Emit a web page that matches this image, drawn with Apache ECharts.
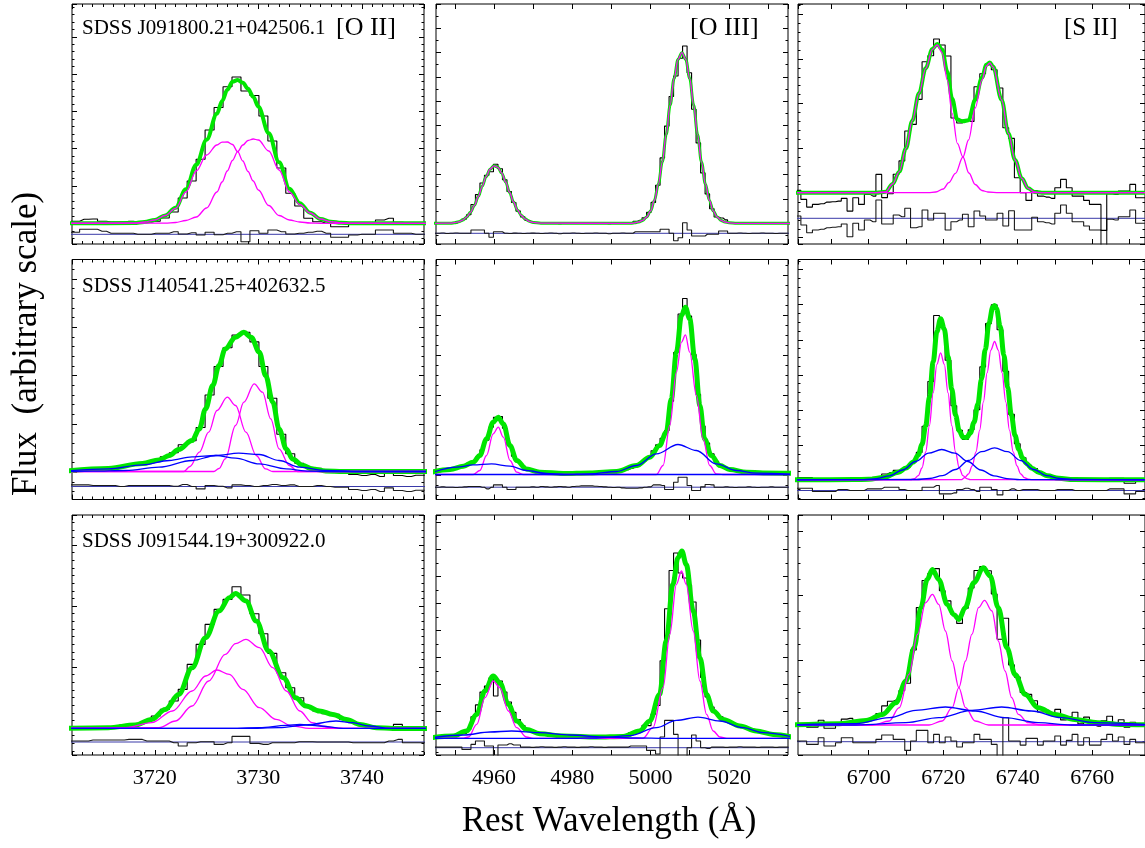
<!DOCTYPE html>
<html><head><meta charset="utf-8">
<script src="https://cdn.jsdelivr.net/npm/echarts@6/dist/echarts.min.js"></script>
<style>html,body{margin:0;padding:0;background:#fff}#c{width:1145px;height:848px}</style>
</head><body><div id="c"></div>
<script>
// ---------------- wavelength grids (bin centres, Angstrom) ----------------
const wlOII = [3711.44,3712.30,3713.17,3714.03,3714.90,3715.77,3716.63,3717.50,3718.36,3719.23,3720.09,3720.96,3721.83,3722.69,3723.56,3724.42,3725.29,3726.16,3727.02,3727.89,3728.75,3729.62,3730.49,3731.35,3732.22,3733.08,3733.95,3734.82,3735.68,3736.55,3737.41,3738.28,3739.15,3740.01,3740.88,3741.74,3742.61,3743.48,3744.34,3745.21,3746.07];
const wlOIII = [4944.35,4945.50,4946.65,4947.80,4948.95,4950.10,4951.25,4952.40,4953.55,4954.70,4955.85,4957.00,4958.15,4959.30,4960.45,4961.60,4962.75,4963.90,4965.05,4966.20,4967.35,4968.50,4969.65,4970.80,4971.95,4973.10,4974.25,4975.40,4976.55,4977.70,4978.85,4980.00,4981.15,4982.30,4983.45,4984.60,4985.75,4986.90,4988.05,4989.20,4990.35,4991.50,4992.65,4993.80,4994.95,4996.10,4997.25,4998.40,4999.55,5000.70,5001.85,5003.00,5004.15,5005.30,5006.45,5007.60,5008.75,5009.90,5011.05,5012.20,5013.35,5014.50,5015.65,5016.80,5017.95,5019.10,5020.25,5021.40,5022.55,5023.70,5024.85,5026.00,5027.15,5028.30,5029.45,5030.60,5031.75,5032.90,5034.05,5035.20];
const wlSII = [6679.45,6681.00,6682.55,6684.10,6685.65,6687.20,6688.75,6690.30,6691.85,6693.40,6694.95,6696.50,6698.05,6699.60,6701.15,6702.70,6704.25,6705.80,6707.35,6708.90,6710.45,6712.00,6713.55,6715.10,6716.65,6718.20,6719.75,6721.30,6722.85,6724.40,6725.95,6727.50,6729.05,6730.60,6732.15,6733.70,6735.25,6736.80,6738.35,6739.90,6741.45,6743.00,6744.55,6746.10,6747.65,6749.20,6750.75,6752.30,6753.85,6755.40,6756.95,6758.50,6760.05,6761.60,6763.15,6764.70,6766.25,6767.80,6769.35,6770.90,6772.45,6774.00,6775.55];

// ---------------- labels ----------------
const objectNames = ['SDSS J091800.21+042506.1','SDSS J140541.25+402632.5','SDSS J091544.19+300922.0'];
const lineNames = ['[O II]','[O III]','[S II]'];
const xTitle = 'Rest Wavelength (\u00C5)';
const yTitle = 'Flux  (arbitrary scale)';
const xRangeMin = [3712, 4945.2, 6681];
const xRangeMax = [3746, 5035.1, 6774.2];
const xLabelEvery = [10, 20, 20];

// ---------------- panel 1,1 : [O II] ----------------
const p11_flux = [22.7,22.7,24.7,25.0,22.7,22.0,22.0,22.7,22.0,21.7,22.7,26.0,32.0,46.0,63.0,84.7,114.0,136.5,157.3,167.0,153.0,148.5,128.0,103.0,76.0,50.7,38.0,25.7,22.3,20.7,17.3,17.3,20.0,20.7,21.3,24.0,25.7,21.7,21.3,20.7,20.0];
const p11_resid = [11.7,11.7,14.7,14.7,12.7,10.7,10.7,10.7,9.7,9.7,10.7,10.7,12.3,10.0,11.3,9.0,11.7,9.3,10.7,12.3,2.3,13.3,10.7,14.0,12.3,10.0,10.7,11.7,12.7,10.7,6.7,6.7,9.0,9.7,9.7,14.0,14.0,10.7,10.7,9.7,9.7];
const p11_total = [[3711,20.7],[3718,20.9],[3719,22.0],[3720,24.0],[3721,28.6],[3722,36.3],[3723,54.8],[3724,79.3],[3725,104.3],[3726,130.3],[3726.5,143.1],[3727,154.3],[3727.5,162.3],[3728,163.9],[3728.5,161.3],[3729,155.3],[3729.5,147.3],[3730,137.3],[3731,110.8],[3732,81.8],[3733,55.3],[3734,40.8],[3735,31.3],[3736,25.0],[3737,22.3],[3738,21.2],[3739,20.8],[3747,20.7]];
const p11_n1 = [[3711,20.7],[3718,20.9],[3719,22.0],[3720,24.0],[3721,28.5],[3722,35.5],[3723,52],[3724,73],[3725,89],[3726,99],[3726.5,101.8],[3727,102],[3727.5,99.5],[3728,92.3],[3728.5,83],[3729,72.5],[3729.5,63],[3730,54],[3731,38.5],[3732,28.5],[3733,24],[3734,22],[3735,21],[3736,20.7],[3747,20.7]];
const p11_n2 = [[3711,20.7],[3721,20.8],[3722,21.5],[3723,23.5],[3724,27],[3725,36],[3726,52],[3726.5,62],[3727,73],[3727.5,83.5],[3728,92.3],[3728.5,99],[3729,103.5],[3729.5,105],[3730,104],[3731,93],[3732,74],[3733,52],[3734,39.5],[3735,31],[3736,25],[3737,22.3],[3738,21.2],[3739,20.8],[3747,20.7]];

// ---------------- panel 1,2 : [O III] ----------------
const p12_flux = [20.7,20.7,21.0,20.5,20.7,21.0,22.5,24.9,29.2,39.5,49.4,61.0,68.8,72.3,79.7,75.2,64.2,52.5,41.5,32.9,27.1,23.6,21.9,21.1,20.5,20.7,21.0,20.7,20.3,20.7,20.7,21.0,20.7,20.5,20.7,20.7,21.0,20.7,20.7,20.3,20.7,20.7,21.0,20.7,20.7,22.8,23.8,26.3,31.6,41.6,58.7,86.1,117.9,147.5,168.0,185.8,198.0,171.3,134.7,101.1,71.1,50.1,35.3,27.0,26.0,24.1,21.1,20.7,21.0,20.7,20.5,20.7,20.7,21.0,20.7,20.7,20.5,20.7,20.7,20.7];
const p12_resid = [10.7,10.7,11.0,10.5,10.7,11.0,10.7,10.7,10.7,14.0,14.0,14.0,10.7,6.7,12.3,12.3,10.7,10.5,10.9,10.7,10.5,10.7,10.9,10.7,10.5,10.7,11.0,10.7,10.3,10.7,10.7,11.0,10.7,10.5,10.7,10.7,11.0,10.7,10.7,10.3,10.7,10.7,11.0,10.7,10.7,12.3,12.3,12.3,12.3,12.3,12.3,14.7,14.7,10.7,3.3,6.3,21.3,14.0,8.0,8.0,8.0,9.7,9.7,9.7,13.0,13.0,10.7,10.7,11.0,10.7,10.5,10.7,10.7,11.0,10.7,10.7,10.5,10.7,10.7,10.7];
const p12_total = [[4944,20.7],[4949,20.8],[4950,21.3],[4951,22.2],[4952,23.9],[4953,26.8],[4954,31.7],[4955,38.6],[4956,47.5],[4957,57.7],[4958,67.4],[4959,74.8],[4960,78.2],[4961,76.7],[4962,70.8],[4963,61.8],[4964,51.5],[4965,42.0],[4966,34.1],[4967,28.5],[4968,24.9],[4969,22.7],[4970,21.6],[4972,20.8],[4995,20.7],[4996,21.2],[4997,22.1],[4998,23.6],[4999,27.0],[5000,33.1],[5001,43.8],[5002,60.1],[5003,82.1],[5004,109.6],[5005,138.9],[5006,165.5],[5007,184.5],[5008,191.3],[5009,184.5],[5010,165.5],[5011,138.9],[5012,109.6],[5013,82.1],[5014,60.1],[5015,43.8],[5016,33.1],[5017,27.0],[5018,23.6],[5019,22.0],[5020,21.2],[5022,20.7],[5036,20.7]];
const p12_narrow = p12_total; // single narrow component = total model

// ---------------- panel 1,3 : [S II] ----------------
const p13_flux = [53.6,53.6,44.6,36.9,39.6,40.3,41.9,42.3,42.9,45.6,32.9,46.3,39.6,49.6,47.9,69.6,46.4,50.3,69.8,83.1,113.0,119.6,144.6,182.3,188.3,205.0,199.0,188.0,126.0,121.0,124.0,122.6,157.3,170.3,179.3,174.3,156.0,116.3,105.6,66.3,51.3,43.6,53.1,47.9,46.9,45.6,56.3,64.6,56.3,47.9,47.9,43.6,39.6,39.6,13.6,50.3,49.6,52.9,52.9,59.6,46.3,46.3,45.6];
const p13_resid = [28.0,28.0,19.0,11.3,14.0,14.7,16.3,16.7,17.3,20.0,7.3,20.7,14.0,24.0,22.3,44.0,20.0,20.0,29.0,27.3,35.7,16.3,17.3,34.0,24.0,30.7,30.7,14.0,22.3,24.0,29.7,17.3,33.0,28.0,24.0,24.0,30.7,18.0,33.3,14.0,14.0,14.0,26.7,22.3,21.3,20.0,30.7,39.0,30.7,22.3,22.3,18.0,14.0,14.0,-12,24.7,24.0,27.3,27.3,34.0,20.7,20.7,20.0];
const p13_total = [[6679,51.3],[6702,51.3],[6704.6,52.3],[6706.4,60],[6708.2,72.3],[6710,95.7],[6711.7,123.3],[6713.5,150.7],[6715.3,175.7],[6717.1,195.1],[6718.4,199.9],[6719.7,194.5],[6721.1,172.3],[6722.4,145.4],[6723.8,124.4],[6725.3,122.7],[6726.8,123.8],[6728.6,144.2],[6730.4,166.2],[6731.6,179.3],[6732.5,181.6],[6733.4,177.4],[6735.7,144],[6737.5,110.7],[6739.3,84],[6741.1,65.7],[6742.8,55.7],[6744.6,52],[6746.5,51.3],[6776,51.3]];
const p13_n1 = [[6679,51.3],[6702,51.3],[6704.6,52.3],[6706.4,60],[6708.2,72.3],[6710,95.7],[6711.7,123.3],[6713.5,150.7],[6715.3,175.7],[6717.1,194.7],[6718.4,199],[6719.7,191.3],[6721.1,164],[6722.4,130.7],[6723.8,100.7],[6725.3,87],[6726.9,71],[6728.6,59.5],[6730.4,53.5],[6732,52],[6735,51.3],[6776,51.3]];
const p13_n2 = [[6679,51.3],[6716,51.3],[6718,52],[6720,55],[6721.5,61.3],[6723.3,70.7],[6725.3,87],[6726.8,104],[6728.6,136],[6730.4,164],[6731.6,178],[6732.5,181],[6733.4,177],[6735.7,144],[6737.5,110.7],[6739.3,84],[6741.1,65.7],[6742.8,55.7],[6744.6,52],[6746.5,51.3],[6776,51.3]];

// ---------------- panel 2,1 ----------------
const p21_flux = [29.6,29.7,29.9,29.6,30.0,32.2,32.5,34.8,36.2,37.9,39.5,42.8,46.7,54.8,58.8,72.0,104.5,133.0,151.8,164.5,167.3,157.6,133.0,101.2,65.3,45.8,36.3,32.2,31.3,28.6,27.6,27.3,25.0,24.0,25.0,23.0,26.6,24.0,23.0,24.3,24.3];
const p21_resid = [14.6,14.6,14.6,14,14,14,13,14,14,14,14,14,13.3,15,13,10.6,14,13.3,11.6,14.6,14,13,14,15,14,14.6,13,13,14,13,12.3,12.3,10,9,10,8,11.6,9,8,9.3,9.3];
const p21_total = [[3711,28],[3715.5,31],[3718.8,36],[3720.4,39.5],[3721.4,44],[3722.3,50],[3723.6,59],[3724.3,70.6],[3724.9,90.6],[3725.6,114],[3726.2,134],[3726.8,150.6],[3727.8,162.3],[3728.6,167.3],[3729.3,162.3],[3730.1,147.3],[3730.7,124],[3731.4,97.3],[3732,70.6],[3732.7,50.6],[3733.3,40.6],[3734.3,34],[3735.2,30.6],[3736.5,28.6],[3738.2,28],[3747,28]];
const p21_n1 = [[3711,28],[3722.8,28],[3723.4,33],[3724.3,47.3],[3725.2,67.3],[3726,89],[3727,102.3],[3727.8,94],[3728.8,67.3],[3729.8,44],[3730.7,30.6],[3731.4,28],[3747,28]];
const p21_n2 = [[3711,28],[3725.7,28],[3726.2,31],[3726.8,40.6],[3727.8,74],[3728.6,97.3],[3729.6,115.6],[3730.4,107.3],[3731.2,80.6],[3732,50.6],[3733,34],[3733.8,28],[3747,28]];
const p21_b1 = [[3711,28.1],[3715.5,30.6],[3718.8,34.6],[3721.4,39],[3723.6,42.6],[3725.9,44],[3727.8,41.3],[3730.1,35.6],[3732.7,30.6],[3734.9,28.3],[3737.2,28],[3747,28]];
const p21_b2 = [[3711,28],[3714,28.3],[3717.2,29],[3720.4,32.3],[3723.6,39],[3725.9,44],[3728.1,46.3],[3730.1,45],[3732,39],[3734,32.3],[3736.5,29],[3739.8,28],[3747,28]];

// ---------------- panel 2,2 ----------------
const p22_flux = [27.6,27.6,28.6,29.2,30.1,30.9,32.4,33.9,36.2,38.0,42.5,49.8,59.4,72.4,82.1,83.0,71.2,54.2,43.3,37.5,33.6,30.4,29.6,28.2,27.9,27.2,26.7,26.7,26.9,26.3,26.1,26.9,27.3,27.7,27.8,27.9,27.8,27.7,27.6,27.6,27.5,28.1,28.7,29.8,31.1,32.6,35.4,38.9,42.1,48.7,54.6,61.2,68.9,98.3,147.0,185.5,201.0,183.4,145.0,105.1,73.4,56.5,45.6,38.1,33.6,32.1,30.0,29.0,28.6,27.9,27.6,27.1,26.6,26.7,26.6,26.8,26.5,26.4,26.4,26.3];
const p22_resid = [12.3,12.3,12.6,12.3,12.3,12.0,12.3,12.6,13.0,13.0,13.0,12.3,10.6,12.3,14.6,14.6,12.3,10.0,10.0,12.3,12.3,12.3,12.6,12.3,13.0,12.6,12.3,12.6,13.0,12.6,12.3,13.0,13.3,13.6,13.6,13.6,13.3,13.0,12.6,12.3,12.0,12.3,11.6,11.3,11.3,11.3,11.6,12.3,12.6,14.6,14.6,14.0,10.0,10.0,17.3,22.3,22.3,14.0,9.0,9.0,12.6,15.0,14.6,12.3,12.3,12.6,12.3,12.0,12.3,12.3,12.6,12.3,12.0,12.3,12.3,12.6,12.3,12.3,12.3,12.3];
const p22_total = [[4944,27.3],[4948.8,30],[4952.2,33.3],[4954.7,37.3],[4956.4,44],[4958.1,60.6],[4959.8,77.3],[4961.1,82.3],[4962.4,75.6],[4964.1,54],[4965.8,39],[4968.3,30.6],[4971.7,27.3],[4977.7,26],[4984.5,26.6],[4991.3,28],[4996.4,34],[4999.8,42.3],[5002.3,54],[5004,67.3],[5005.3,100.6],[5006.6,147.3],[5007.9,184],[5008.9,192.3],[5010,180.6],[5011.3,140.6],[5012.6,94],[5013.8,60.6],[5015.5,44],[5017.7,34],[5020.2,30],[5024.5,27.3],[5028.7,26.6],[5036,26.3]];
const p22_narrow = [[4944,25],[4954.7,25],[4956.4,29],[4958.1,44],[4959.8,65.6],[4961.1,72.3],[4962.4,62.3],[4964.1,39],[4965.8,27.3],[4967.5,25],[5001.5,25],[5003.2,34],[5004.9,74],[5006.6,127.3],[5007.9,157.3],[5008.9,164.6],[5010,147.3],[5011.7,104],[5013.4,60.6],[5015.1,34],[5016.8,25.6],[5018.5,25],[5036,25]];
const p22_b1 = [[4944,26.6],[4950.5,32.3],[4954.7,34.6],[4959.4,35.6],[4964.1,33.3],[4968.3,29],[4973.4,26],[4978,25],[5036,25]];
const p22_b2 = [[4944,25],[4978,25],[4984.5,25.6],[4991.3,28],[4996.4,34],[5001.5,45.6],[5007,55],[5011.7,49],[5016.8,35.6],[5021.9,29],[5027,26.3],[5036,25.3]];

// ---------------- panel 2,3 ----------------
const p23_flux = [21.9,21.9,21.9,21.9,18.6,18.7,18.7,18.8,20.8,20.9,20.0,20.1,20.2,21.8,22.2,22.7,25.5,26.9,29.1,29.5,32.5,37.5,47.1,73.3,118.0,184.0,172.0,139.2,93.7,69.2,60.0,69.8,89.8,132.6,175.9,194.8,169.7,128.3,85.1,55.7,41.8,34.3,30.9,26.5,24.2,22.7,22.4,21.8,21.3,20.0,19.8,19.6,19.6,19.6,19.6,21.2,21.2,21.2,16.2,16.2,18.6,18.6,18.6];
const p23_resid = [11.3,11.3,11.3,11.3,8,8,8,8,10,10,9,9,9,10.6,10.6,10.6,12.3,12.3,12.3,10,9,9,9,12.3,12.3,14,5.6,5.6,6.6,10,11.3,10,8,12.3,12.3,10,4.6,9,10.6,9,10,10,10,9,9,9,10,10,10,9,9,9,9,9,9,10.6,10.6,10.6,5.6,5.6,8,8,8];
const p23_total = [[6679,19.6],[6696,19.9],[6700,20.2],[6704,22.1],[6708,27.3],[6710,31.5],[6712,37.5],[6713.3,44.5],[6714.3,55.0],[6715.3,73.7],[6716.3,102.5],[6717.3,137.4],[6718.3,167.9],[6719.3,180.8],[6720.3,170.4],[6721.3,142.6],[6722.3,110.4],[6723.3,84.4],[6724.3,68.9],[6725.3,62.3],[6726.3,61.9],[6727.3,66.7],[6728.3,77.3],[6729.3,95.3],[6730.3,120.6],[6731.3,150.0],[6732.3,176.6],[6733.3,192.2],[6733.8,194.0],[6734.3,191.1],[6735.3,173.2],[6736.3,144.3],[6737.3,112.3],[6738.3,84.5],[6739.3,63.9],[6740.3,50.2],[6741.3,41.6],[6742.3,36.3],[6743.8,31.3],[6745.8,27.0],[6748,23.7],[6751,21.2],[6755,19.9],[6776,19.6]];
const p23_n1 = [[6679,19.6],[6711.3,19.9],[6712.3,20.9],[6713.3,23.8],[6714.3,31.5],[6715.3,47.5],[6716.3,73.9],[6717.3,106.6],[6718.3,135.2],[6719.3,146.6],[6720.3,135.2],[6721.3,106.6],[6722.3,73.9],[6723.3,47.5],[6724.3,31.5],[6725.3,23.8],[6726.3,20.9],[6727.3,19.9],[6776,19.6]];
const p23_n2 = [[6679,19.6],[6724.8,19.8],[6725.8,21.9],[6726.8,25.7],[6727.8,33.6],[6728.8,47.6],[6729.8,69.4],[6730.8,97.6],[6731.8,126.9],[6732.8,149.4],[6733.8,158.0],[6734.8,149.4],[6735.8,126.9],[6736.8,97.6],[6737.8,69.4],[6738.8,47.6],[6739.8,33.6],[6740.8,25.7],[6741.8,21.9],[6742.8,20.4],[6743.8,19.8],[6776,19.6]];
const p23_b1 = [[6679,19.6],[6698.6,19.9],[6702.1,20.9],[6705.6,23.7],[6709.1,29.5],[6712.6,38.0],[6716.1,46.4],[6719.6,50.0],[6723.1,46.4],[6726.6,38.0],[6730.1,29.5],[6733.6,23.7],[6737.1,20.9],[6740.6,19.9],[6776,19.6]];
const p23_b2 = [[6679,19.6],[6712.8,20.0],[6716.3,21.0],[6719.8,23.9],[6723.3,30.0],[6726.8,39.0],[6730.3,47.8],[6733.8,51.6],[6737.3,47.8],[6740.8,39.0],[6744.3,30.0],[6747.8,23.9],[6751.3,21.0],[6754.8,20.0],[6776,19.6]];

// ---------------- panel 3,1 ----------------
const p31_flux = [27.3,27.3,27.3,27.3,28,28,30,30,31.3,34,39,45.6,54,65.6,90.6,110.6,130.6,145.6,155.6,168.3,160,141.3,121.3,101.6,82.3,67.3,57.3,48,44,41.3,40.6,35.6,32.3,30.6,27.3,27.3,28,30.6,26.6,26.6,26.6];
const p31_resid = [14,14,14,15,15,15,15,15.6,15.6,14,14,14,12.3,9,12.3,13.3,13.3,10.6,12.3,18.6,18.6,11.6,10.6,12.3,12.3,12.3,13.3,13.3,13,13,13,13,12.3,12.3,12.3,12.3,14,15.6,12.3,12.3,12.3];
const p31_total = [[3711,26.6],[3715.5,27.3],[3718.1,30],[3719.7,35.6],[3721,45.6],[3722.3,60.6],[3723.6,87.3],[3724.9,117.3],[3726.2,144],[3727.2,157.3],[3727.8,161.6],[3728.8,154],[3729.8,134],[3731,104],[3732.4,77.3],[3733.6,57.3],[3734.6,49],[3735.9,44],[3737.2,40.6],[3738.5,35.6],[3739.8,30.6],[3741.4,27.3],[3743,26.6],[3747,26.6]];
const p31_n1 = [[3711,26.6],[3717.2,27.3],[3719.7,32.3],[3721.7,44],[3723.6,64],[3724.9,79],[3726,85],[3727.2,80.6],[3728.5,65.6],[3730.1,47.3],[3731.7,35.6],[3733.3,29],[3734.9,26.6],[3747,26.6]];
const p31_n2 = [[3711,26.6],[3720.4,27.3],[3722,34],[3723.6,49],[3725.2,74],[3726.8,100.6],[3727.8,111.3],[3728.8,115.6],[3730.1,107.3],[3731.4,87.3],[3732.7,64],[3734,44],[3735.2,32.3],[3736.5,28],[3738.2,26.6],[3747,26.6]];
const p31_b1 = [[3711,26.6],[3726.8,26.6],[3730.1,27.3],[3732.7,29.6],[3734,30.6],[3735.9,29],[3738.2,26.6],[3747,26.6]];
const p31_b2 = [[3711,26.6],[3728.8,26.6],[3732,27.3],[3734.6,30],[3737.5,34],[3739.1,32.3],[3740.7,29],[3742.7,26.6],[3747,26.6]];

// ---------------- panel 3,2 ----------------
const p32_flux = [18.4,18.4,18.7,19.1,19.4,20.3,22.0,21.4,25.8,38.2,50.1,62.9,68.9,77.1,59.0,74.0,63.0,53.0,42.6,35.4,29.4,25.9,24.5,23.0,21.8,21.4,21.0,20.5,20.0,19.6,19.5,19.3,19.2,19.1,18.9,18.8,18.7,18.6,18.7,18.8,18.9,19.1,19.2,19.6,22.3,24.3,25.8,29.7,29.4,40.9,49.5,94.2,146.3,184.5,202.0,182.0,177.0,170.0,153.0,115.0,77.6,58.0,48.0,42.0,38.1,35.3,32.9,31.3,30.0,28.5,27.1,25.8,24.5,23.6,22.7,21.7,20.9,20.3,19.7,19.0];
const p32_resid = [7.9,7.9,7.9,7.9,7.9,7.9,7.9,5.6,5.6,10.6,14.0,14.0,9.0,9.0,-10,10.0,10.0,11.3,10.0,10.0,7.9,7.9,7.6,7.9,8.2,7.9,7.9,7.6,7.9,8.2,7.9,7.9,7.6,7.9,7.9,8.2,7.9,7.9,7.6,7.9,7.9,7.9,7.9,7.9,9.0,9.0,9.0,9.0,4.6,4.6,1.0,18.0,34.6,34.6,20.6,-12,-10,7.3,20.0,14.0,7.3,6.6,7.9,7.9,7.9,7.6,7.9,7.9,8.2,7.9,7.9,7.9,7.6,7.9,7.9,7.9,7.6,7.9,7.9,7.9];
const p32_total = [[4944,17.3],[4949.6,19],[4953,24],[4955.6,40.6],[4957.7,64],[4959.8,79],[4961.5,72.3],[4963.7,50.6],[4965.8,34],[4968.3,25.6],[4971.7,21.3],[4977.7,19],[4986.2,18],[4993,18.6],[4997.2,24],[4999.8,34],[5002.3,60.6],[5004,114],[5005.7,170.6],[5007,197.3],[5008,204],[5009.1,190.6],[5010.9,144],[5012.6,97.3],[5014.3,60.6],[5016,44],[5018.5,35.6],[5022.8,29],[5027,24],[5031.3,20.6],[5036,18]];
const p32_narrow = [[4944,16.6],[4952,16.8],[4953.5,18],[4955.6,30.6],[4957.7,57.3],[4959.8,74],[4961.5,67.3],[4963.7,44],[4965.8,27.3],[4968.3,18],[4970,16.6],[4998,16.6],[5000.6,27.3],[5003.2,67.3],[5004.9,120.6],[5006.6,170.6],[5007.9,184],[5009.1,170.6],[5010.9,124],[5012.6,74],[5014.3,40.6],[5016,24],[5017.7,18],[5019.5,16.6],[5036,16.6]];
const p32_b1 = [[4944,17.3],[4952.2,20],[4959,23],[4964.5,24],[4971.7,22.3],[4979.4,20],[4987.9,18],[4996.4,17],[5004,16.6],[5036,16.6]];
const p32_b2 = [[4944,16.6],[4980,16.6],[4986.2,17],[4994.7,19.3],[5001.5,27.3],[5006.6,34.6],[5012.1,37.9],[5017.7,34],[5023.6,27.3],[5028.7,22.3],[5036,18.3]];

// ---------------- panel 3,3 ----------------
const p33_flux = [30.7,30.8,31.0,27.7,27.9,34.8,26.7,26.8,30.3,35.9,36.6,32.3,33.0,34.0,36.1,41.5,49.1,53.8,54.9,64.4,71.8,105.0,147.4,174.5,181.4,186.4,164.3,154.1,140.8,131.6,146.7,167.0,184.5,188.4,184.2,161.0,115.8,136.8,90.1,77.9,62.6,60.6,54.2,43.0,44.8,42.5,45.6,35.1,38.3,42.8,31.3,37.9,29.7,28.9,34.2,38.8,31.7,35.3,27.8,32.7,29.2,29.1,29.0];
const p33_resid = [14,14,14,10.6,10.6,17.3,9,9,12.3,17.3,17.3,12.3,12.3,12.3,12.3,15.6,20,20,15.6,15.6,4.6,14,24.6,24.6,12.3,20.6,12.3,18,14,8,12.3,12.3,20.6,15.6,15.6,10.6,-10,37.3,14,14,9.9,16.6,16.6,9.9,14,14,19,9.9,14.6,20.6,9.9,17.3,9.9,9.9,15.6,20.6,14,18,10.6,15.6,12.3,12.3,12.3];
const p33_total = [[6679,30],[6692.2,31.3],[6699.3,34.6],[6703.7,40.6],[6707.3,52.3],[6710,74],[6712.2,107.3],[6714,147.3],[6715.7,175.6],[6717.1,185.6],[6718.8,175.6],[6721.1,150.6],[6722.8,140.6],[6724.2,135.6],[6725.9,147.3],[6728.2,172.3],[6730.8,187.3],[6732.6,179],[6734.8,147.3],[6737.1,107.3],[6739.3,80.6],[6742,60.6],[6745.5,47.3],[6750,40.6],[6755.3,35.6],[6761.5,32.3],[6767.7,30.6],[6776,30]];
const p33_n1 = [[6679,30],[6701.1,30],[6705.5,34],[6708.2,47.3],[6710.8,80.6],[6713.1,120.6],[6715.3,152.3],[6717.1,160.6],[6718.8,150.6],[6720.6,124],[6722.4,94],[6724.2,67.3],[6726,47.3],[6728.6,34],[6732.2,30],[6776,30]];
const p33_n2 = [[6679,30],[6716.2,30],[6719.7,34],[6722.4,47.3],[6724.2,67.3],[6726,94],[6727.7,120.6],[6729.5,147.3],[6731.1,154.6],[6733.1,144],[6734.8,114],[6736.6,84],[6738.4,57.3],[6740.2,40.6],[6742.8,32.3],[6746.4,30],[6776,30]];
const p33_b1 = [[6679,30.3],[6696.6,31.3],[6705.5,37.3],[6712.6,44.6],[6720.6,48],[6728.6,44],[6736.6,37.3],[6745.5,32.3],[6754.4,30],[6776,30]];
const p33_b2 = [[6679,30],[6696.6,30],[6710,32.3],[6718.8,37.3],[6727.7,44.6],[6735.7,48],[6743.7,44],[6751.7,37.3],[6760.6,32.3],[6776,30.3]];

// residual zero levels and y tick anchoring (same flux units)
const residZero = [9.7,10.7,25.7,13.0,12.3,9.0,13.0,7.3,13.3];
const tickZero  = [20.7,20.7,51.0,27.3,24.6,19.3,27.0,16.3,30.3];
const tickStep  = [37.3,24.4,44.7,48.3,40.0,35.1,61.0,27.0,64.6];
const tickMinor = [5,2,5,5,4,4,8,2,4];

// ---------------- build chart ----------------
const panels = [
  {flux:p11_flux,resid:p11_resid,total:p11_total,narrow:[p11_n1,p11_n2],broad:[]},
  {flux:p12_flux,resid:p12_resid,total:p12_total,narrow:[p12_narrow],broad:[]},
  {flux:p13_flux,resid:p13_resid,total:p13_total,narrow:[p13_n1,p13_n2],broad:[]},
  {flux:p21_flux,resid:p21_resid,total:p21_total,narrow:[p21_n1,p21_n2],broad:[p21_b1,p21_b2]},
  {flux:p22_flux,resid:p22_resid,total:p22_total,narrow:[p22_narrow],broad:[p22_b1,p22_b2]},
  {flux:p23_flux,resid:p23_resid,total:p23_total,narrow:[p23_n1,p23_n2],broad:[p23_b1,p23_b2]},
  {flux:p31_flux,resid:p31_resid,total:p31_total,narrow:[p31_n1,p31_n2],broad:[p31_b1,p31_b2]},
  {flux:p32_flux,resid:p32_resid,total:p32_total,narrow:[p32_narrow],broad:[p32_b1,p32_b2]},
  {flux:p33_flux,resid:p33_resid,total:p33_total,narrow:[p33_n1,p33_n2],broad:[p33_b1,p33_b2]}
];
const wlGrids = [wlOII, wlOIII, wlSII];

const gridLeft = [72, 436, 798], gridTop = [4, 259.5, 515], gridW = [352, 352, 349], gridH = 240;
const yTop = 240;
const FONT = '"Liberation Serif", "Times New Roman", serif';
const GREEN = '#00e600', MAG = '#ff00ff', BLUE = '#0000ff', ZERO = '#3a3aa8';

const grids = [], xAxes = [], yAxes = [], series = [];
for (let r = 0; r < 3; r++) for (let c = 0; c < 3; c++) {
  const p = r * 3 + c, P = panels[p];
  grids.push({left: gridLeft[c], top: gridTop[r], width: gridW[c], height: gridH, show: true,
    borderColor: '#000', borderWidth: 1, backgroundColor: 'transparent'});
  const every = xLabelEvery[c];
  const xMain = xAxes.length;
  const baseX = {gridIndex: p, type: 'value', min: xRangeMin[c], max: xRangeMax[c],
    minInterval: 10, maxInterval: 10, axisLine: {show: false, onZero: false}, splitLine: {show: false},
    axisTick: {show: true, inside: true, length: 5, lineStyle: {color: '#000', width: 1}}};
  xAxes.push(Object.assign({}, baseX, {position: 'bottom', axisLabel: {show: r === 2, margin: 12,
    fontFamily: FONT, fontSize: 22, color: '#000', showMinLabel: false, showMaxLabel: false,
    formatter: v => (Math.abs(v % every) < 1e-6 ? String(v) : '')}}));
  xAxes.push(Object.assign({}, baseX, {position: 'top', axisLabel: {show: false}}));
  if (c === 0) {
    const minorX = Object.assign({}, baseX, {minInterval: 1, maxInterval: 1,
      axisTick: {show: true, inside: true, length: 3, lineStyle: {color: '#000', width: 1}}, axisLabel: {show: false}});
    xAxes.push(Object.assign({}, minorX, {position: 'bottom'}));
    xAxes.push(Object.assign({}, minorX, {position: 'top'}));
  }
  const yData = yAxes.length;
  yAxes.push({gridIndex: p, type: 'value', min: 0, max: yTop, show: false});
  const z0 = tickZero[p], st = tickStep[p];
  const tickAx = {gridIndex: p, type: 'value', min: (0 - z0) / st, max: (yTop - z0) / st,
    minInterval: 1, maxInterval: 1, axisLine: {show: false, onZero: false}, splitLine: {show: false}, axisLabel: {show: false},
    axisTick: {show: true, inside: true, length: 5, lineStyle: {color: '#000', width: 1}},
    minorTick: {show: true, splitNumber: tickMinor[p], length: 2.5, lineStyle: {color: '#000', width: 1}}};
  yAxes.push(Object.assign({}, tickAx, {position: 'left'}));
  yAxes.push(Object.assign({}, tickAx, {position: 'right'}));

  const wl = wlGrids[c];
  const common = {type: 'line', xAxisIndex: xMain, yAxisIndex: yData, symbol: 'none', silent: true, animation: false, clip: true};
  // residual zero line
  series.push(Object.assign({}, common, {data: [[xRangeMin[c] - 2, residZero[p]], [xRangeMax[c] + 2, residZero[p]]],
    lineStyle: {color: ZERO, width: 1}}));
  // residual histogram
  series.push(Object.assign({}, common, {step: 'middle', data: wl.map((w, i) => [w, P.resid[i]]),
    lineStyle: {color: '#1a1a1a', width: 1.1}}));
  // data histogram
  series.push(Object.assign({}, common, {step: 'middle', data: wl.map((w, i) => [w, P.flux[i]]),
    lineStyle: {color: '#000', width: 1.1}}));
  // total model
  const gw = r === 0 ? (c === 1 ? 3 : 4) : 5;
  series.push(Object.assign({}, common, {data: P.total, smooth: 0.35, smoothMonotone: 'x',
    lineStyle: {color: GREEN, width: gw}}));
  P.narrow.forEach(d => series.push(Object.assign({}, common, {data: d, smooth: 0.35, smoothMonotone: 'x',
    lineStyle: {color: MAG, width: 1.3}})));
  P.broad.forEach(d => series.push(Object.assign({}, common, {data: d, smooth: 0.35, smoothMonotone: 'x',
    lineStyle: {color: BLUE, width: 1.3}})));
}

const txt = (x, y, s, size, align, rot) => ({type: 'text', x: x, y: y, rotation: rot || 0, silent: true,
  style: {text: s, fill: '#000', font: size + 'px ' + FONT, textAlign: align || 'left', textVerticalAlign: 'middle'}});
const graphics = [
  txt(82, 28.9, objectNames[0], 21),
  txt(82, 286.6, objectNames[1], 21),
  txt(82, 541.6, objectNames[2], 21),
  txt(336, 27.7, lineNames[0], 26),
  txt(690, 28.2, lineNames[1], 26),
  txt(1064, 28.5, lineNames[2], 25),
  txt(609, 822, xTitle, 35, 'center'),
  txt(27, 344, yTitle, 35, 'center', Math.PI / 2)
];

const chart = echarts.init(document.getElementById('c'), null, {renderer: 'canvas', width: 1145, height: 848});
chart.setOption({animation: false, backgroundColor: '#fff', grid: grids, xAxis: xAxes, yAxis: yAxes, series: series, graphic: graphics});
</script>
</body></html>
